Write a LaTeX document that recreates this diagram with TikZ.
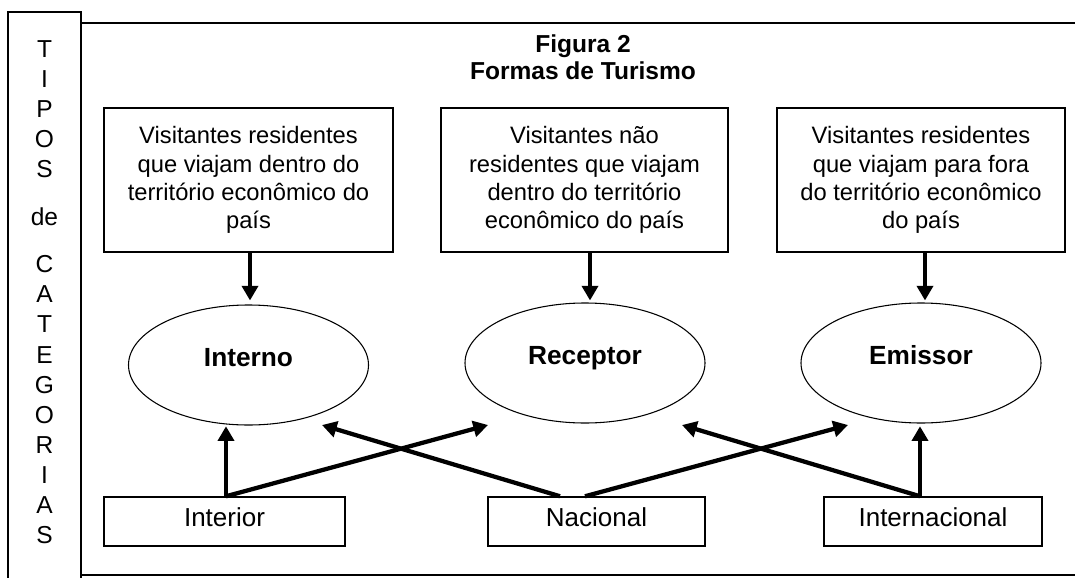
\documentclass[tikz,border=0pt]{standalone}
\usepackage{fontspec}
\setmainfont{Liberation Sans}
\usetikzlibrary{arrows.meta,shapes.geometric,calc}
\begin{document}
\begin{tikzpicture}[x=0.75pt,y=-0.75pt,
  frame/.style={line width=1.3pt},
  tbox/.style={draw,line width=1.1pt,minimum height=108pt,align=center,inner sep=0pt,
    font=\fontsize{17.8}{21.2}\selectfont},
  oval/.style={draw,ellipse,line width=0.8pt,minimum width=180pt,minimum height=90pt,inner sep=0pt,
    text height=0.72em,text depth=0.45em,font=\fontsize{19.7}{23}\selectfont\bfseries},
  bbox/.style={draw,line width=1.1pt,minimum height=36.75pt,inner sep=0pt,
    text height=0.716em,text depth=0pt,font=\fontsize{19.5}{23}\selectfont},
  arr/.style={line width=3.2pt,-{Triangle[length=11pt,width=12pt]}},
  letter/.style={anchor=base,inner sep=0pt,font=\fontsize{18.4}{22}\selectfont}]
\useasboundingbox (0,0) rectangle (1075,578);
\fill[white] (0,0) rectangle (1075,578);
% frames
\draw[frame] (8,578) -- (8,12) -- (81,12) -- (81,578);
\draw[frame] (81,23) -- (1075,23);
\draw[frame] (81,575) -- (1075,575);
% vertical side text
\foreach \t/\yy [count=\i] in {T/57,I/87,P/117,O/147,S/177,de/225,C/272,A/302,T/332,E/363,G/393,O/423,R/453,I/483,A/513,S/543}
  \node[letter] (side\i) at (44.5,\yy) {\t};
% title
\node[align=center,inner sep=0pt,font=\fontsize{18.4}{20.25}\selectfont\bfseries] (title) at (583,57.5)
  {Figura 2\\Formas de Turismo};
% top boxes
\node[tbox,minimum width=216.75pt] (t1) at (248.5,180)
  {Visitantes residentes\\que viajam dentro do\\território econômico do\\país};
\node[tbox,minimum width=215.25pt] (t2) at (584.5,180)
  {Visitantes não\\residentes que viajam\\dentro do território\\econômico do país};
\node[tbox,minimum width=216pt] (t3) at (921,180)
  {Visitantes residentes\\que viajam para fora\\do território econômico\\do país};
% ellipses
\node[oval] (e1) at (248.5,365) {Interno};
\node[oval] (e2) at (585,363) {Receptor};
\node[oval] (e3) at (921,363) {Emissor};
% bottom boxes
\node[bbox,minimum width=180.75pt] (b1) at (224.5,521.5) {Interior};
\node[bbox,minimum width=162.75pt] (b2) at (596.5,521.5) {Nacional};
\node[bbox,minimum width=163.5pt] (b3) at (933,521.5) {Internacional};
% free arrow ends
\coordinate (c1) at (488,425);
\coordinate (c2) at (322,425);
\coordinate (c3) at (848,425);
\coordinate (c4) at (682,425);
% down arrows
\draw[arr] ($(t1.south)+(1.5,0)$) -- ($(e1.north)+(1.5,-4)$);
\draw[arr] ($(t2.south)+(5.5,0)$) -- ($(e2.north)+(5,-2)$);
\draw[arr] ($(t3.south)+(4,0)$) -- ($(e3.north)+(4,-2)$);
% bottom arrows
\draw[arr] ($(b1.north)+(1.5,0)$) -- ($(b1.north)+(1.5,-70)$);
\draw[arr] ($(b1.north)+(1.5,0)$) -- (c1);
\draw[arr] ($(b2.north)+(-36.5,0)$) -- (c2);
\draw[arr] ($(b2.north)+(-11.5,0)$) -- (c3);
\draw[arr] ($(b3.north)+(-13,0)$) -- (c4);
\draw[arr] ($(b3.north)+(-13,0)$) -- ($(b3.north)+(-13,-70)$);
\end{tikzpicture}
\end{document}
